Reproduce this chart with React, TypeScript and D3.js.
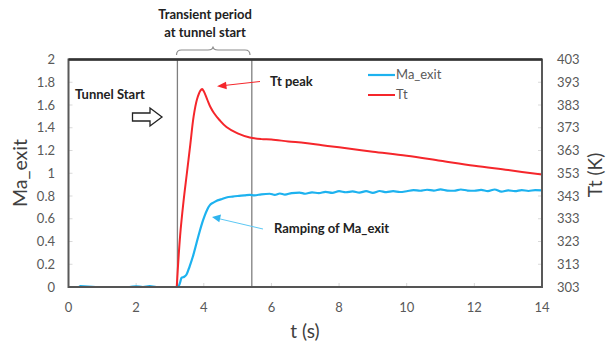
import React from "react";
import * as d3 from "d3";

const maTicks = [0, 0.2, 0.4, 0.6, 0.8, 1, 1.2, 1.4, 1.6, 1.8, 2];
const ttTicks = [303, 313, 323, 333, 343, 353, 363, 373, 383, 393, 403];
const tTicks = [0, 2, 4, 6, 8, 10, 12, 14];

const maTime = [0, 0.3, 0.35, 0.8, 1.8, 2.0, 2.2, 2.4, 2.6, 2.9, 3.24, 3.3, 3.34, 3.42, 3.49, 3.58, 3.68, 3.78, 3.88, 3.96, 4.03, 4.1, 4.18, 4.27, 4.37, 4.5, 4.67, 4.85, 5.0, 5.2, 5.36, 5.5, 5.7, 5.95, 6.1, 6.25, 6.4, 6.6, 6.83, 7.0, 7.2, 7.4, 7.6, 7.8, 8.0, 8.2, 8.4, 8.6, 8.8, 9.0, 9.2, 9.4, 9.6, 9.8, 10.0, 10.2, 10.4, 10.6, 10.8, 11.0, 11.2, 11.4, 11.6, 11.8, 12.0, 12.2, 12.4, 12.6, 12.8, 13.0, 13.2, 13.4, 13.6, 13.8, 14.0];
const maValues = [0, 0, 0.008, 0, 0, 0.006, 0, 0.007, 0, 0, 0, 0.04, 0.08, 0.09, 0.11, 0.18, 0.27, 0.38, 0.49, 0.57, 0.63, 0.68, 0.72, 0.74, 0.757, 0.77, 0.787, 0.795, 0.8, 0.805, 0.81, 0.806, 0.815, 0.82, 0.81, 0.822, 0.812, 0.826, 0.83, 0.82, 0.832, 0.825, 0.837, 0.828, 0.842, 0.833, 0.84, 0.83, 0.842, 0.828, 0.844, 0.834, 0.842, 0.835, 0.842, 0.852, 0.846, 0.855, 0.848, 0.858, 0.848, 0.846, 0.857, 0.848, 0.846, 0.854, 0.843, 0.857, 0.838, 0.85, 0.842, 0.852, 0.844, 0.852, 0.85];

const ttTime = [3.2, 3.3, 3.4, 3.5, 3.6, 3.7, 3.8, 3.9, 3.95, 4.0, 4.1, 4.2, 4.3, 4.47, 4.67, 5.0, 5.36, 5.7, 6.0, 6.5, 7, 7.5, 8, 9, 10, 11, 12, 13, 14];
const ttValues = [303, 325.5, 340.5, 353, 365.5, 378, 385.5, 389.3, 390, 389, 385.5, 382, 379.5, 376.3, 373.3, 370.5, 368.7, 368, 367.8, 367, 366.3, 365.3, 364.4, 362.5, 360.7, 358.5, 356.3, 354.4, 352.4];

const transientStart = 3.22;
const transientEnd = 5.42;

const FONT = "Lato, 'Open Sans', sans-serif";
const TXT = "#404040";
const BLUE = "#1db2ef";
const RED = "#f5262b";

export default function App() {
  const W = 613, H = 346;
  const L = 68.5, R = 542, T = 59.5, B = 287;
  const x = d3.scaleLinear().domain([0, 14]).range([L, R]);
  const yL = d3.scaleLinear().domain([0, 2]).range([B, T]);
  const yR = d3.scaleLinear().domain([303, 403]).range([B, T]);

  const maLine = d3.line<number>().x((_, i) => x(maTime[i])).y((d) => yL(d)).curve(d3.curveMonotoneX);
  const ttLine = d3.line<number>().x((_, i) => x(ttTime[i])).y((d) => yR(d)).curve(d3.curveCatmullRom.alpha(0.5));

  return (
    <svg width={W} height={H} style={{ position: "absolute", left: 0, top: 0, background: "#fff" }} fontFamily={FONT}>
      {maTicks.map((v) => (
        <line key={"lt" + v} x1={L} x2={L + 4} y1={yL(v)} y2={yL(v)} stroke="#d9d9d9" strokeWidth={1} />
      ))}
      {ttTicks.map((v) => (
        <line key={"rt" + v} x1={R - 4} x2={R} y1={yR(v)} y2={yR(v)} stroke="#d9d9d9" strokeWidth={1} />
      ))}
      {tTicks.map((v) => (
        <line key={"bt" + v} x1={x(v)} x2={x(v)} y1={B} y2={B - 4} stroke="#d9d9d9" strokeWidth={1} />
      ))}

      {[transientStart, transientEnd].map((v) => (
        <line key={"v" + v} x1={x(v)} x2={x(v)} y1={T} y2={B} stroke="#7f7f7f" strokeWidth={1.3} />
      ))}

      <path d={ttLine(ttValues) || ""} fill="none" stroke={RED} strokeWidth={2} />
      <path d={maLine(maValues) || ""} fill="none" stroke={BLUE} strokeWidth={2.2} />

      <rect x={L} y={T} width={R - L} height={B - T} fill="none" stroke="#595959" strokeWidth={2} />
      <line x1={L} x2={R} y1={T} y2={T} stroke="#333" strokeWidth={2.5} />
      <line x1={L} x2={R} y1={B} y2={B} stroke="#555" strokeWidth={2.2} />

      {maTicks.map((v) => (
        <text key={"ll" + v} x={55} y={yL(v)} dy="0.35em" textAnchor="end" fontSize={13} fill="#595959">
          {String(v)}
        </text>
      ))}
      {ttTicks.map((v) => (
        <text key={"rl" + v} x={557} y={yR(v)} dy="0.35em" textAnchor="start" fontSize={13} fill="#595959">
          {v}
        </text>
      ))}
      {tTicks.map((v) => (
        <text key={"bl" + v} x={x(v)} y={312} textAnchor="middle" fontSize={13} fill="#595959">
          {v}
        </text>
      ))}

      <text transform="translate(27,173) rotate(-90)" textAnchor="middle" fontSize={19.5} fill={TXT}>Ma_exit</text>
      <text transform="translate(602,175) rotate(-90)" textAnchor="middle" fontSize={19} fill={TXT}>Tt (K)</text>
      <text x={305} y={338} textAnchor="middle" fontSize={19} fill={TXT}>t (s)</text>

      <line x1={368} x2={395} y1={75} y2={75} stroke={BLUE} strokeWidth={2.2} />
      <text x={396} y={79} fontSize={13} fill="#595959">Ma_exit</text>
      <line x1={368} x2={395} y1={95} y2={95} stroke={RED} strokeWidth={2} />
      <text x={396} y={99} fontSize={13} fill="#595959">Tt</text>

      <path d="M176.5,55 Q176.5,50 181.5,50 L208,50 Q213,50 213,46.5 Q213,50 218,50 L245,50 Q250,50 250,55" fill="none" stroke="#8c8c8c" strokeWidth={1.2} />
      <text x={205} y={19} textAnchor="middle" fontSize={13} fontWeight="bold" fill="#222">Transient period</text>
      <text x={205} y={37} textAnchor="middle" fontSize={13} fontWeight="bold" fill="#222">at tunnel start</text>

      <text x={75} y={99} fontSize={13} fontWeight="bold" fill="#222">Tunnel Start</text>
      <path d="M132.5,113 L150,113 L150,108 L162,117 L150,126 L150,121 L132.5,121 Z" fill="#fff" stroke="#222" strokeWidth={1.3} />

      <line x1={260} y1={81.5} x2={224} y2={85.5} stroke={RED} strokeWidth={1} />
      <path d="M217,86.3 L226,81.8 L226.8,89.3 Z" fill={RED} />
      <text x={270} y={86} fontSize={13} fontWeight="bold" fill="#222">Tt peak</text>

      <line x1={263} y1={229} x2={219} y2={218.7} stroke="#5cc8f4" strokeWidth={1} />
      <path d="M212,217 L221,214.5 L219.3,222.3 Z" fill="#2fb4ee" />
      <text x={274} y={233} fontSize={13} fontWeight="bold" fill="#222">Ramping of Ma_exit</text>
    </svg>
  );
}
